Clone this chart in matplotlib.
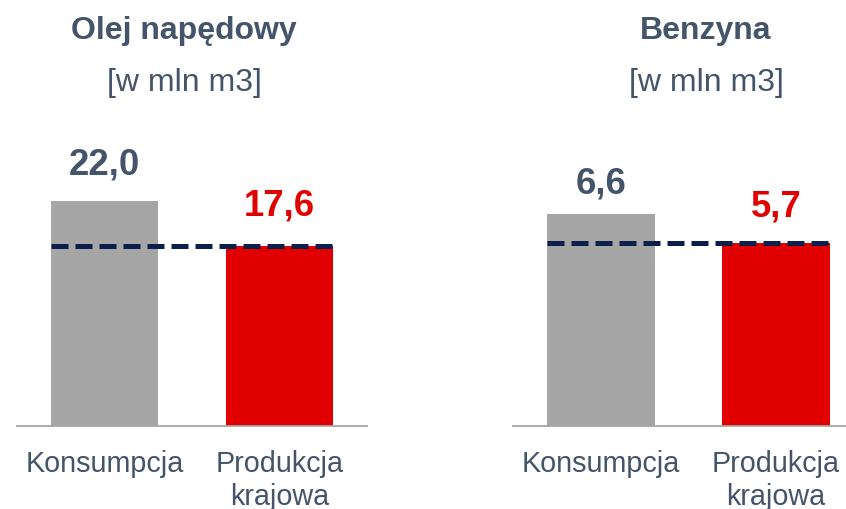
import matplotlib
matplotlib.use("Agg")
import matplotlib.pyplot as plt

# ---- data ----
panel_titles = ["Olej napędowy", "Benzyna"]
unit_label = "[w mln m3]"
categories = ["Konsumpcja", "Produkcja\nkrajowa"]
diesel_values = [22.0, 17.6]
petrol_values = [6.6, 5.7]
value_labels_diesel = ["22,0", "17,6"]
value_labels_petrol = ["6,6", "5,7"]

# ---- style ----
FONT = "Liberation Sans"
TEXT_COL = "#44546A"
GREY = "#A6A6A6"
RED = "#E00000"
NAVY = "#0C1E4B"
bar_colors = [GREY, RED]
label_colors = [TEXT_COL, RED]

W, H = 846, 510
fig = plt.figure(figsize=(W / 100, H / 100), dpi=100)

def fx(px):
    return px / W

def fy(py):
    return 1 - py / H

base_py = 426.5
top_py = 100.0
axes_specs = [
    # left px, right px, ylim top, label gaps (points), title center px
    dict(l=17, r=367, ytop=32.0, gaps=[20.0, 22.3], tcx=184),
    dict(l=513, r=863.5, ytop=10.19, gaps=[15.8, 19.9], tcx=706),
]
datasets = [diesel_values, petrol_values]
labelsets = [value_labels_diesel, value_labels_petrol]

bar_w = 0.617
for i, spec in enumerate(axes_specs):
    ax = fig.add_axes([fx(spec["l"]), fy(base_py), fx(spec["r"] - spec["l"]),
                       (base_py - top_py) / H])
    vals = datasets[i]
    xs = list(range(len(vals)))
    ax.bar(xs, vals, width=bar_w, color=bar_colors, zorder=2)
    ax.set_xlim(-0.5, 1.5)
    ax.set_ylim(0, spec["ytop"])
    # dashed reference line at domestic production level
    ax.plot([xs[0] - bar_w / 2, xs[-1] + bar_w / 2], [vals[1], vals[1]],
            color=NAVY, lw=3.6, linestyle=(0, (3.4, 1.4)),
            solid_capstyle="butt", dash_capstyle="butt", zorder=3)
    for j, (x, v) in enumerate(zip(xs, vals)):
        ax.annotate(labelsets[i][j], xy=(x, v), xytext=(0, spec["gaps"][j]),
                    textcoords="offset points", ha="center", va="baseline",
                    fontsize=26.3, fontweight="bold", color=label_colors[j],
                    family=FONT)
    for s in ["top", "right", "left"]:
        ax.spines[s].set_visible(False)
    ax.spines["bottom"].set_color("#A6A6A6")
    ax.spines["bottom"].set_linewidth(1.3)
    ax.set_yticks([])
    ax.set_xticks(xs)
    ax.set_xticklabels(categories, fontsize=20.7, color=TEXT_COL, family=FONT,
                       linespacing=1.22)
    ax.tick_params(axis="x", length=0, pad=17)
    ax.patch.set_visible(False)

    fig.text(fx(spec["tcx"]), fy(38.8), panel_titles[i], ha="center",
             va="baseline", fontsize=23, fontweight="bold", color=TEXT_COL,
             family=FONT)
    fig.text(fx(spec["tcx"]), fy(90.7), unit_label, ha="center",
             va="baseline", fontsize=23, color=TEXT_COL, family=FONT)

fig.savefig("out.png", dpi=100)
